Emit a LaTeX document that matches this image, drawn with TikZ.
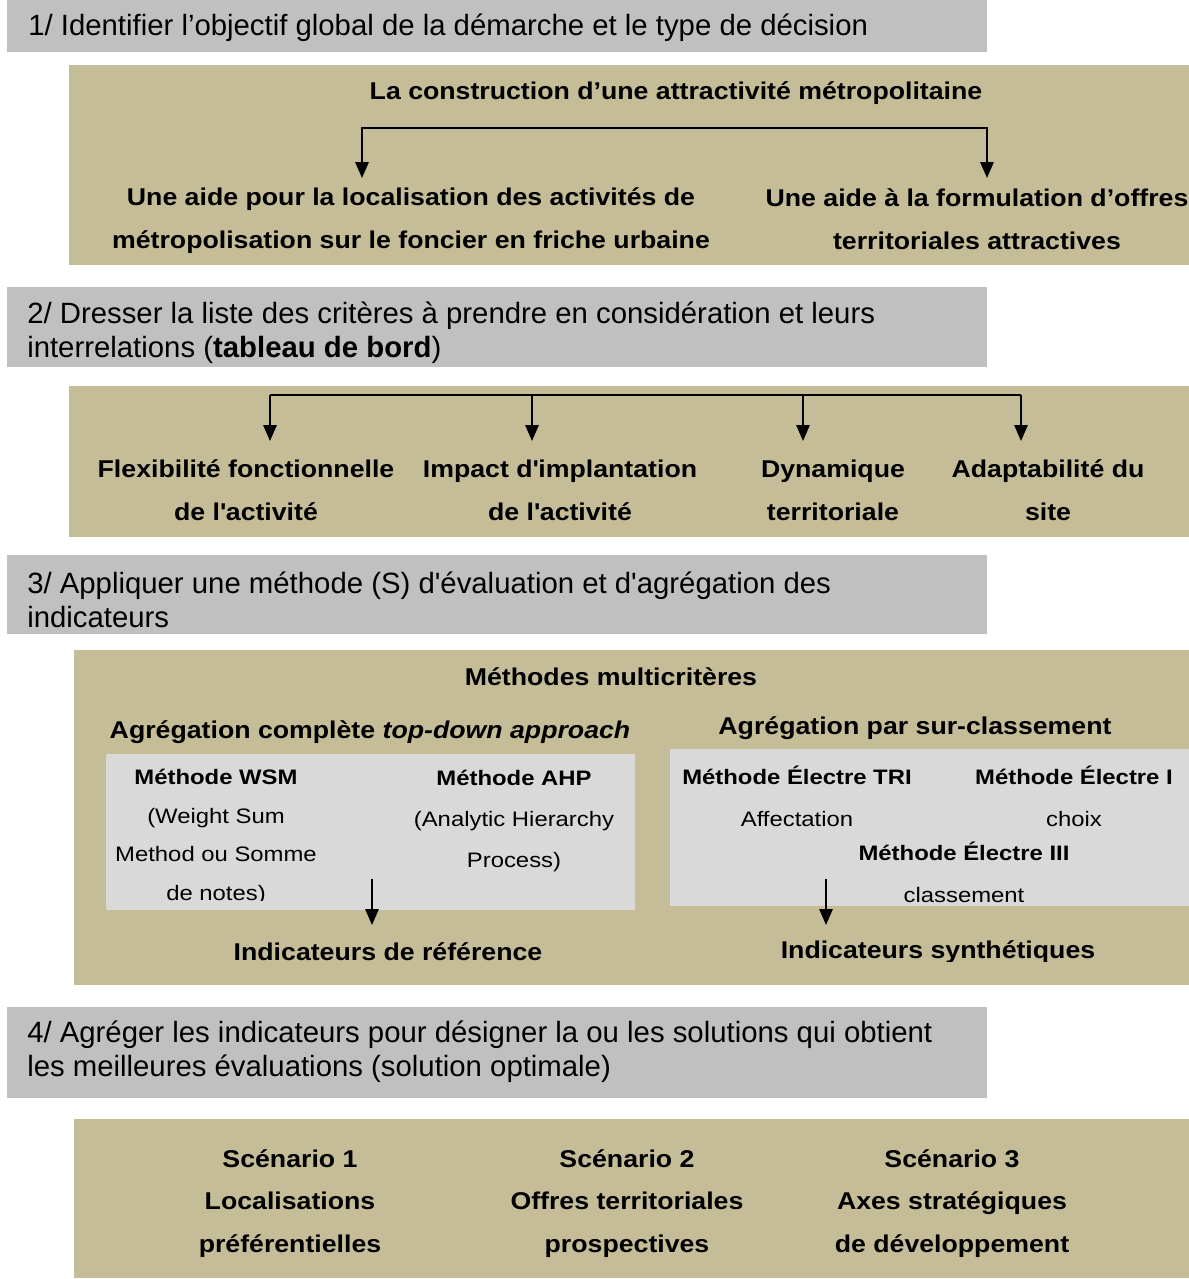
\documentclass[tikz,border=0pt]{standalone}
\usepackage{fontspec}
\setmainfont{Liberation Sans}
\newfontfamily\panelfont[FakeStretch=1.1]{Liberation Sans}
\newfontfamily\methfont[FakeStretch=1.14]{Liberation Sans}
\usepackage{tikz}
\usetikzlibrary{positioning,fit,arrows.meta,calc}
\definecolor{hdrgrey}{RGB}{192,192,192}
\definecolor{panelkhaki}{RGB}{196,189,151}
\definecolor{methgrey}{RGB}{217,217,217}
\newcommand{\sq}{\textquotesingle}

\begin{document}
\begin{tikzpicture}[
  x=0.75pt, y=-0.75pt,
  hdr/.style={fill=hdrgrey, inner sep=0pt},
  panel/.style={fill=panelkhaki, inner sep=0pt},
  meth/.style={fill=methgrey, inner sep=0pt},
  hdrtxt/.style={anchor=west, align=left, inner sep=0pt, font=\fontsize{22}{25.5}\selectfont},
  lbl/.style={align=center, inner sep=0pt, font=\panelfont\bfseries\fontsize{18.2}{32}\selectfont},
  mtxt/.style={align=center, inner sep=0pt, font=\methfont\fontsize{15.7}{29}\selectfont},
  fork/.style={line width=1.5pt, line join=miter},
  arr/.style={fork, -{Triangle[length=12pt,width=10pt]}},
]
\useasboundingbox (0,0) rectangle (1189,1279);
% ---- step 1 ----
\coordinate (h1a) at (7,0);    \coordinate (h1b) at (987,52);
\coordinate (p1a) at (69,65);  \coordinate (p1b) at (1189,265);
\node[hdr, fit=(h1a)(h1b)] (head1) {};
\node[hdrtxt] (head1txt) at (28,28) {1/ Identifier l’objectif global de la démarche et le type de décision};
\node[panel, fit=(p1a)(p1b)] (panel1) {};
\node[lbl] (constr) at (676,93) {La construction d’une attractivité métropolitaine};
\node[lbl] (loc) at (411,220.5) {Une aide pour la localisation des activités de\\ métropolisation sur le foncier en friche urbaine};
\node[lbl] (offre) at (977,219) {Une aide à la formulation d’offres\\ territoriales attractives};
\coordinate (fork1l) at (362,128);
\coordinate (fork1r) at (987,128);
\draw[fork, {Triangle[length=12pt,width=10pt]}-{Triangle[length=12pt,width=10pt]}]
  ($(fork1l)+(0,50)$) -- (fork1l) -- (fork1r) -- ($(fork1r)+(0,50)$);
% ---- step 2 ----
\coordinate (h2a) at (7,287);  \coordinate (h2b) at (987,367);
\coordinate (p2a) at (69,386); \coordinate (p2b) at (1189,537);
\node[hdr, fit=(h2a)(h2b)] (head2) {};
\node[hdrtxt] (head2txt) at (27,332.5) {2/ Dresser la liste des critères à prendre en considération et leurs\\ interrelations (\textbf{tableau de bord})};
\node[panel, fit=(p2a)(p2b)] (panel2) {};
\node[lbl] (critA) at (246,490.5) {Flexibilité fonctionnelle\\ de l\sq activité};
\node[lbl] (critB) at (560,490.5) {Impact d\sq implantation\\ de l\sq activité};
\node[lbl] (critC) at (833,490.5) {Dynamique\\ territoriale};
\node[lbl] (critD) at (1048,490.5) {Adaptabilité du\\ site};
\coordinate (fork2A) at (270,395);
\coordinate (fork2B) at (532,395);
\coordinate (fork2C) at (803,395);
\coordinate (fork2D) at (1021,395);
\draw[fork] (fork2A) -- (fork2D);
\foreach \k in {A,B,C,D}
  \draw[arr] (fork2\k) -- ++(0,46);
% ---- step 3 ----
\coordinate (h3a) at (7,555);  \coordinate (h3b) at (987,634);
\coordinate (p3a) at (74,650); \coordinate (p3b) at (1189,985);
\node[hdr, fit=(h3a)(h3b)] (head3) {};
\node[hdrtxt] (head3txt) at (27,599.5) {3/ Appliquer une méthode (S) d\sq évaluation et d\sq agrégation des\\ indicateurs};
\node[panel, fit=(p3a)(p3b)] (panel3) {};
\node[lbl] (multi) at (611,677) {Méthodes multicritères};
\node[lbl] (aggL) at (370,732) {Agrégation complète \textit{top-down approach}};
\node[lbl] (aggR) at (915,728) {Agrégation par sur-classement};
\coordinate (mLa) at (106,754); \coordinate (mLb) at (635,910);
\coordinate (mRa) at (670,749); \coordinate (mRb) at (1189,906);
\node[meth, fit=(mLa)(mLb)] (methL) {};
\node[meth, fit=(mRa)(mRb)] (methR) {};
\begin{scope}
  \clip (106,754) rectangle (635,900);
  \node[mtxt] (wsm) at (216,837) {\textbf{Méthode WSM}\\ (Weight Sum\\ Method ou Somme\\ de notes)};
\end{scope}
\node[mtxt, font=\methfont\fontsize{15.7}{31}\selectfont] (ahp) at (514,821) {\textbf{Méthode AHP}\\ (Analytic Hierarchy\\ Process)};
\node[mtxt, font=\methfont\fontsize{15.7}{31.5}\selectfont] (etri) at (797,796) {\textbf{Méthode Électre TRI}\\ Affectation};
\node[mtxt, font=\methfont\fontsize{15.7}{31.5}\selectfont] (eone) at (1074,796) {\textbf{Méthode Électre I}\\ choix};
\node[mtxt, font=\methfont\fontsize{15.7}{31.5}\selectfont] (ethree) at (964,872) {\textbf{Méthode Électre III}\\ classement};
\node[lbl] (indref) at (388,952) {Indicateurs de référence};
\begin{scope}
  \clip (74,650) rectangle (1189,961);
  \node[lbl] (indsyn) at (938,952.5) {Indicateurs synthétiques};
\end{scope}
\coordinate (arrL) at (372,879);
\coordinate (arrR) at (826,879);
\draw[arr] (arrL) -- ++(0,46);
\draw[arr] (arrR) -- ++(0,46);
% ---- step 4 ----
\coordinate (h4a) at (7,1007);  \coordinate (h4b) at (987,1098);
\coordinate (p4a) at (74,1119); \coordinate (p4b) at (1189,1278);
\node[hdr, fit=(h4a)(h4b)] (head4) {};
\node[hdrtxt] (head4txt) at (27,1052) {4/ Agréger les indicateurs pour désigner la ou les solutions qui obtient\\ les meilleures évaluations (solution optimale)};
\node[panel, fit=(p4a)(p4b)] (panel4) {};
\node[lbl] (scen1) at (290,1203.5) {Scénario 1\\ Localisations\\ préférentielles};
\node[lbl] (scen2) at (627,1203.5) {Scénario 2\\ Offres territoriales\\ prospectives};
\node[lbl] (scen3) at (952,1203.5) {Scénario 3\\ Axes stratégiques\\ de développement};
\end{tikzpicture}
\end{document}
